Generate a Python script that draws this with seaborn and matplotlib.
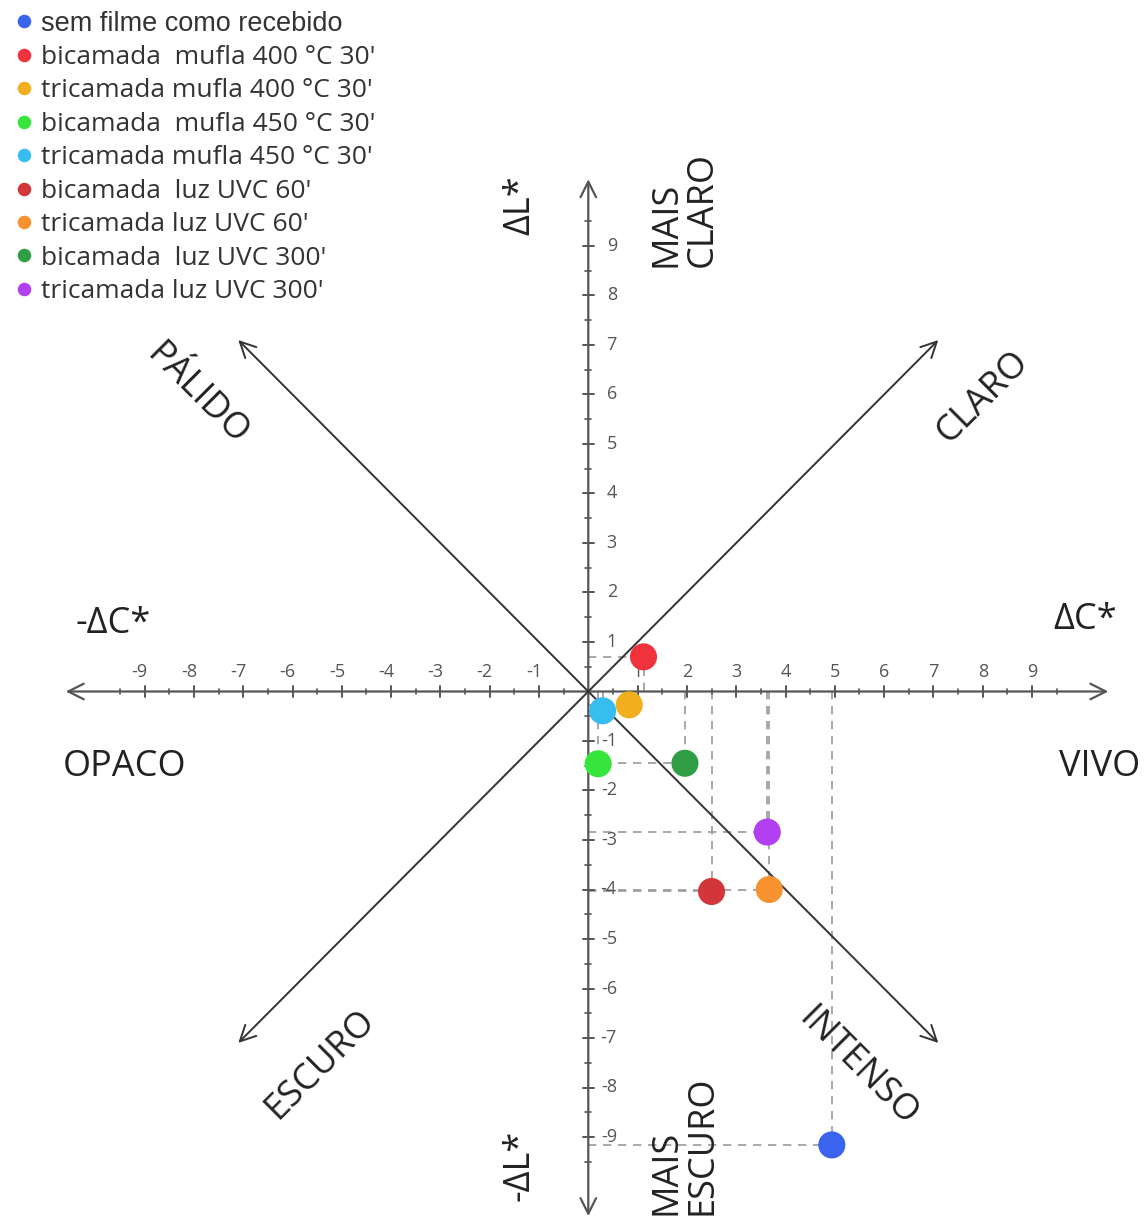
import numpy as np
import pandas as pd
import seaborn as sns
import matplotlib.pyplot as plt

# Colour differences of the samples: chroma (ΔC*) and lightness (ΔL*)
samples = [
    "sem filme como recebido",
    "bicamada  mufla 400 °C 30'",
    "tricamada mufla 400 °C 30'",
    "bicamada  mufla 450 °C 30'",
    "tricamada mufla 450 °C 30'",
    "bicamada  luz UVC 60'",
    "tricamada luz UVC 60'",
    "bicamada  luz UVC 300'",
    "tricamada luz UVC 300'",
]
delta_c = [4.94, 1.12, 0.83, 0.20, 0.29, 2.50, 3.67, 1.96, 3.63]
delta_l = [-9.16, 0.70, -0.27, -1.46, -0.39, -4.04, -4.00, -1.45, -2.84]
colors = ["#3a63ee", "#f0323c", "#f2ae1c", "#36e63c", "#38bdf0",
          "#d3363a", "#f8922e", "#2f9e44", "#b23ff0"]

tick_values = list(range(-9, 0)) + list(range(1, 10))

df = pd.DataFrame({"amostra": samples, "dC": delta_c, "dL": delta_l})

sns.set_theme(style="white")
plt.rcParams["font.family"] = ["Open Sans", "DejaVu Sans"]

W, H = 1148, 1219
fig = plt.figure(figsize=(W / 100, H / 100), dpi=100)
ax = fig.add_axes([0, 0, 1, 1])

# pixel geometry of the diagram: origin and pixels per unit
ox, oy, ux, uy = 588.3, 691.5, 49.3, 49.5
ax.set_xlim(-ox / ux, (W - ox) / ux)
ax.set_ylim(-(H - oy) / uy, oy / uy)
ax.axis("off")

axis_col = "#555555"
diag_col = "#333333"

# main axes with open arrow heads
ax.annotate("", xy=(10.55, 0), xytext=(-10.6, 0),
            arrowprops=dict(arrowstyle="<->", color=axis_col, lw=1.6,
                            mutation_scale=28, shrinkA=0, shrinkB=0))
ax.annotate("", xy=(0, 10.35), xytext=(0, -10.6),
            arrowprops=dict(arrowstyle="<->", color=axis_col, lw=1.6,
                            mutation_scale=28, shrinkA=0, shrinkB=0))
# diagonals
d = 7.1
ax.annotate("", xy=(-d, d), xytext=(d, -d),
            arrowprops=dict(arrowstyle="<->", color=diag_col, lw=1.4,
                            mutation_scale=28, shrinkA=0, shrinkB=0))
ax.annotate("", xy=(d, d), xytext=(-d, -d),
            arrowprops=dict(arrowstyle="<->", color=diag_col, lw=1.4,
                            mutation_scale=28, shrinkA=0, shrinkB=0))

# ticks on both axes
maj = 0.11
mnr = 0.06
for v in tick_values:
    ax.plot([v, v], [-maj, maj], color=axis_col, lw=1.4)
    ax.plot([-maj, maj], [v, v], color=axis_col, lw=1.4)
for v in np.arange(-9.5, 10, 1.0):
    ax.plot([v, v], [-mnr, mnr], color=axis_col, lw=1.2)
    ax.plot([-mnr, mnr], [v, v], color=axis_col, lw=1.2)

tick_font = dict(fontsize=13, color="#555555")
for v in tick_values:
    xoff = -0.1 if v < 0 else 0.0
    ax.text(v + xoff, 0.40, str(v), ha="center", va="center", **tick_font)
    ax.text(0.58, v, str(v), ha="right", va="center", **tick_font)

# projection lines of each point onto the axes
proj = dict(color="#9a9a9a", lw=1.2, linestyle=(0, (5, 4)), zorder=1)
ax.hlines(df["dL"], 0, df["dC"], **proj)
ax.vlines(df["dC"], 0, df["dL"], **proj)

sns.scatterplot(data=df, x="dC", y="dL", hue="amostra", palette=colors,
                s=380, edgecolor="none", ax=ax, zorder=5, legend=True)

# axis names and region labels
big = dict(fontsize=26, color="#222222", ha="center", va="center")
ax.text(-9.64, 1.36, "-ΔC*", **big)
ax.text(10.07, 1.44, "ΔC*", **big)
ax.text(-9.4, -1.52, "OPACO", **big)
ax.text(10.38, -1.52, "VIVO", **big)
ax.text(-1.37, 9.83, "ΔL*", rotation=90, **big)
ax.text(-1.40, -9.57, "-ΔL*", rotation=90, **big)
ax.text(1.96, 9.73, "MAIS\nCLARO", rotation=90, multialignment="left",
        linespacing=1.0, **big)
ax.text(1.96, -9.16, "MAIS\nESCURO", rotation=90, multialignment="left",
        linespacing=1.0, **big)
ax.text(-7.94, 5.99, "PÁLIDO", rotation=-45, rotation_mode="anchor", **big)
ax.text(8.0, 5.95, "CLARO", rotation=45, rotation_mode="anchor", **big)
ax.text(-5.44, -7.54, "ESCURO", rotation=45, rotation_mode="anchor", **big)
ax.text(5.47, -7.6, "INTENSO", rotation=-45, rotation_mode="anchor", **big)

# legend in the top left corner
leg = ax.get_legend()
handles = leg.legend_handles
leg.remove()
leg = fig.legend(handles, samples, loc="upper left",
                 bbox_to_anchor=(0.0, 1.0), frameon=False,
                 fontsize=19, markerscale=0.5, handletextpad=0.15,
                 labelspacing=0.32, borderaxespad=0.1, borderpad=0.3,
                 handlelength=1.0)
for t in leg.get_texts():
    t.set_color("#333333")
leg.get_texts()[0].set_family(["Liberation Sans", "DejaVu Sans"])
leg.get_texts()[0].set_fontsize(19.5)

fig.savefig("out.png", dpi=100, facecolor="white")
